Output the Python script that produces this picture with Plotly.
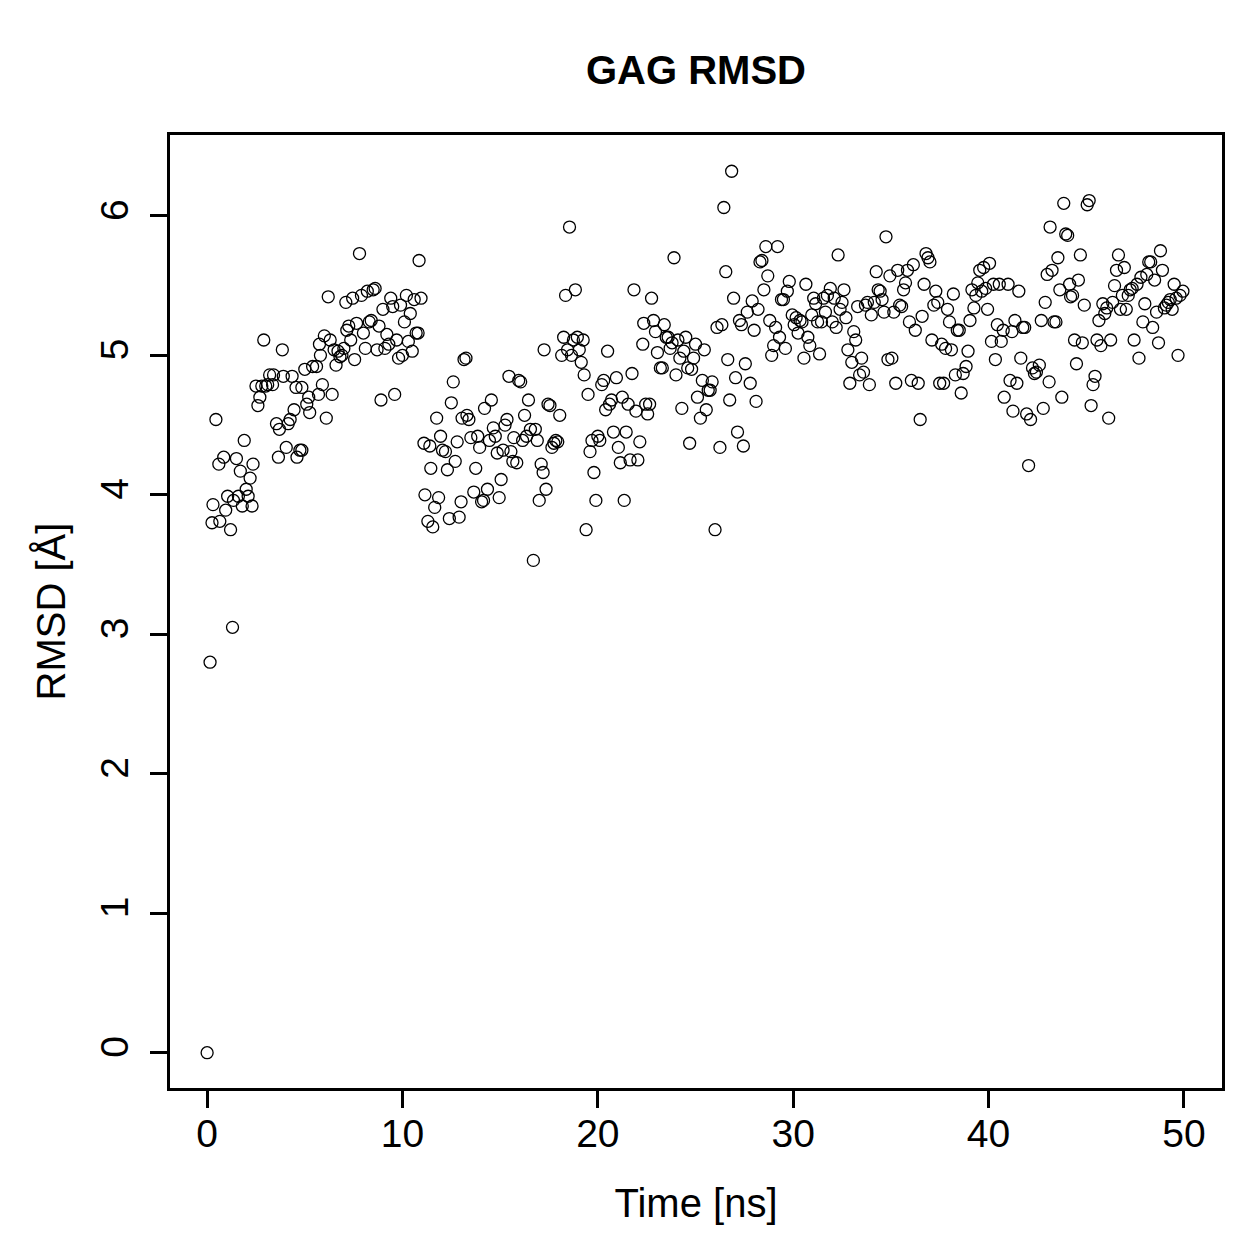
import plotly.graph_objects as go

time_ns = [
    0.0, 0.15, 0.3, 0.25, 0.45, 0.6, 0.65, 0.85, 0.95, 1.05, 1.2, 1.3, 1.35, 1.5, 1.6, 1.7, 1.8, 1.9, 2.0, 2.1,
    2.2, 2.3, 2.35, 2.5, 2.6, 2.7, 2.8, 2.9, 3.0, 3.1, 3.2, 3.35, 3.4, 3.55, 3.65, 3.7, 3.85, 3.9, 4.05, 4.15,
    4.25, 4.35, 4.45, 4.55, 4.6, 4.75, 4.85, 4.85, 5.0, 5.1, 5.2, 5.25, 5.4, 5.6, 5.7, 5.75, 5.8, 5.9, 6.0, 6.1,
    6.2, 6.3, 6.4, 6.5, 6.6, 6.7, 6.8, 6.9, 7.0, 7.1, 7.15, 7.25, 7.35, 7.45, 7.55, 7.65, 7.8, 7.9, 8.0, 8.1,
    8.2, 8.3, 8.4, 8.5, 8.6, 8.7, 8.8, 8.9, 9.0, 9.1, 9.2, 9.3, 9.4, 9.5, 9.6, 9.7, 9.8, 9.9, 10.0, 10.1,
    10.2, 10.3, 10.4, 10.5, 10.6, 10.7, 10.8, 10.85, 10.95,
    11.1, 11.15, 11.3, 11.4, 11.45, 11.55, 11.65, 11.75, 11.85, 11.95, 12.05, 12.2, 12.3, 12.4, 12.5, 12.6,
    12.7, 12.8, 12.9, 13.0, 13.05, 13.15, 13.25, 13.3, 13.4, 13.5, 13.65, 13.75, 13.85, 13.95, 14.05, 14.15,
    14.2, 14.35, 14.45, 14.55, 14.65, 14.75, 14.85, 14.95, 15.05, 15.15, 15.25, 15.35, 15.45, 15.55, 15.65,
    15.7, 15.85, 15.95, 16.05, 16.15, 16.25, 16.35, 16.45, 16.55, 16.7, 16.8, 16.9, 17.0, 17.1, 17.2, 17.25,
    17.35, 17.45, 17.55, 17.65, 17.75, 17.85, 17.95, 18.05, 18.15, 18.25, 18.35, 18.45, 18.55, 18.65, 18.75,
    18.85, 18.95, 19.05, 19.15, 19.25, 19.3, 19.4, 19.5, 19.6, 19.7, 19.8, 19.9, 20.0, 20.1, 20.2, 20.3,
    20.4, 20.5, 20.6, 20.7, 20.8, 20.95, 21.05, 21.15, 21.25, 21.35, 21.45, 21.55, 21.65, 21.75, 21.85, 21.95,
    22.05, 22.15, 22.3, 22.35, 22.45, 22.55, 22.65, 22.75, 22.85, 22.95, 23.05, 23.2, 23.3, 23.4, 23.5, 23.6,
    23.7, 23.8, 23.9, 24.0, 24.1, 24.2, 24.3, 24.4, 24.5, 24.6, 24.7, 24.8, 24.9, 25.0, 25.1, 25.25, 25.35,
    25.45, 25.55, 25.65, 25.75, 25.85, 26.0, 26.1, 26.25, 26.35, 26.45, 26.55, 26.65, 26.75, 26.85, 26.95,
    27.05, 27.15, 27.25, 27.35, 27.45, 27.55, 27.65, 27.8, 27.9, 28.0, 28.1, 28.2, 28.3, 28.4, 28.5, 28.6,
    28.7, 28.8, 28.9, 29.0, 29.1, 29.2, 29.3, 29.4, 29.5, 29.6, 29.7, 29.8, 29.95, 30.05, 30.15, 30.25,
    30.35, 30.45, 30.55, 30.65, 30.75, 30.85, 30.95, 31.05, 31.15, 31.25, 31.35, 31.45, 31.55, 31.65, 31.75,
    31.9, 32.0, 32.1, 32.2, 32.3, 32.4, 32.5, 32.6, 32.7, 32.8, 32.9, 33.0, 33.1, 33.2, 33.3, 33.4, 33.5,
    33.6, 33.7, 33.8, 33.9, 34.0, 34.15, 34.25, 34.35, 34.45, 34.55, 34.65, 34.75, 34.85, 34.95, 35.05,
    35.15, 35.25, 35.35, 35.45, 35.55, 35.65, 35.75, 35.85, 35.95, 36.05, 36.15, 36.25, 36.4, 36.5, 36.6,
    36.7, 36.8, 36.9, 37.0, 37.1, 37.2, 37.3, 37.4, 37.5, 37.6, 37.7, 37.8, 37.9, 38.0, 38.1, 38.2, 38.3,
    38.4, 38.5, 38.6, 38.7, 38.85, 38.95, 39.05, 39.15, 39.25, 39.35, 39.45, 39.55, 39.65, 39.75, 39.85,
    39.95, 40.05, 40.15, 40.25, 40.35, 40.45, 40.55, 40.65, 40.75, 40.8, 41.0, 41.1, 41.2, 41.25, 41.35,
    41.45, 41.55, 41.65, 41.75, 41.85, 41.95, 42.05, 42.15, 42.25, 42.35, 42.45, 42.6, 42.7, 42.8, 42.9,
    43.0, 43.1, 43.15, 43.25, 43.35, 43.45, 43.55, 43.65, 43.75, 43.85, 43.95, 44.05, 44.15, 44.2, 44.3,
    44.4, 44.5, 44.6, 44.7, 44.8, 44.9, 45.05, 45.15, 45.25, 45.35, 45.45, 45.55, 45.65, 45.75, 45.85,
    45.95, 46.05, 46.15, 46.25, 46.35, 46.45, 46.55, 46.65, 46.75, 46.85, 46.95, 47.05, 47.15, 47.25, 47.35,
    47.45, 47.6, 47.7, 47.8, 47.9, 48.0, 48.1, 48.2, 48.3, 48.4, 48.5, 48.6, 48.7, 48.8, 48.9, 49.0, 49.1,
    49.2, 49.3, 49.4, 49.5, 49.6, 49.7, 49.8, 49.95,
]

rmsd = [
    0.0, 2.80, 3.93, 3.80, 4.54, 4.22, 3.81, 4.27, 3.89, 3.99, 3.75, 3.05, 3.96, 4.26, 3.99, 4.17, 3.92, 4.39, 4.04, 3.99,
    4.12, 3.92, 4.22, 4.78, 4.64, 4.70, 4.78, 5.11, 4.78, 4.79, 4.86, 4.79, 4.86, 4.51, 4.27, 4.47, 5.04, 4.85, 4.34, 4.51,
    4.54, 4.85, 4.61, 4.77, 4.27, 4.32, 4.32, 4.77, 4.90, 4.65, 4.70, 4.59, 4.92, 4.92, 4.72, 5.08, 5.00, 4.79, 5.14, 4.55,
    5.42, 5.11, 4.72, 5.04, 4.93, 5.03, 4.99, 5.00, 5.05, 5.38, 5.18, 5.21, 5.11, 5.41, 4.97, 5.23, 5.73, 5.43, 5.16, 5.05,
    5.46, 5.24, 5.25, 5.47, 5.48, 5.04, 5.21, 4.68, 5.33, 5.05, 5.15, 5.08, 5.41, 5.35, 4.72, 5.11, 4.98, 5.36, 5.00, 5.24,
    5.43, 5.10, 5.30, 5.03, 5.40, 5.16, 5.16, 5.68, 5.41,
    4.37, 4.00, 3.81, 4.35, 4.19, 3.77, 3.91, 4.55, 3.98, 4.42, 4.32, 4.31, 4.18, 3.83, 4.66, 4.81,
    4.24, 4.38, 3.84, 3.95, 4.55, 4.97, 4.98, 4.57, 4.54, 4.41, 4.02, 4.19, 4.42, 4.34, 3.95, 3.96,
    4.62, 4.04, 4.39, 4.68, 4.48, 4.42, 4.30, 3.98, 4.11, 4.32, 4.50, 4.54, 4.85, 4.31, 4.24,
    4.41, 4.23, 4.82, 4.81, 4.39, 4.57, 4.42, 4.68, 4.47, 3.53, 4.47, 4.39, 3.96, 4.22, 4.16, 5.04,
    4.04, 4.65, 4.64, 4.34, 4.37, 4.39, 4.38, 4.57, 5.00, 5.13, 5.43, 5.04, 5.92, 5.00, 5.11,
    5.47, 5.13, 5.04, 4.95, 5.11, 4.86, 3.75, 4.72, 4.31, 4.39, 4.16, 3.96, 4.42, 4.39, 4.79, 4.82,
    4.61, 5.03, 4.65, 4.68, 4.45, 4.84, 4.34, 4.23, 4.70, 3.96, 4.45, 4.65, 4.25, 4.87, 5.47, 4.60,
    4.25, 4.38, 5.08, 5.23, 4.65, 4.58, 4.65, 5.41, 5.25, 5.17, 5.02, 4.91, 4.91, 5.22, 5.13, 5.13,
    5.05, 5.09, 5.70, 4.86, 5.11, 4.98, 4.62, 5.03, 5.13, 4.91, 4.37, 4.90, 4.98, 5.08, 4.70, 4.55, 4.82,
    5.04, 4.61, 4.75, 4.75, 4.81, 3.75, 5.20, 4.34, 5.22, 6.06, 5.60, 4.97, 4.68, 6.32, 5.41,
    4.84, 4.45, 5.25, 5.22, 4.35, 4.94, 5.31, 4.80, 5.39, 5.18, 4.67, 5.33, 5.67, 5.68, 5.47, 5.78,
    5.57, 5.25, 5.00, 5.07, 5.20, 5.78, 5.13, 5.40, 5.40, 5.05, 5.46, 5.53, 5.29, 5.22, 5.27, 5.16,
    5.25, 5.24, 4.98, 5.51, 5.13, 5.07, 5.29, 5.41, 5.37, 5.24, 5.01, 5.24, 5.41, 5.31, 5.43,
    5.48, 5.24, 5.41, 5.20, 5.72, 5.33, 5.38, 5.47, 5.27, 5.04, 4.80, 4.95, 5.17, 5.11, 5.35, 4.86, 4.98,
    4.88, 5.36, 5.38, 4.79, 5.29, 5.38, 5.60, 5.47, 5.46, 5.40, 5.31, 5.85, 4.97, 5.57, 4.98,
    5.31, 4.80, 5.61, 5.36, 5.35, 5.47, 5.52, 5.61, 5.24, 4.82, 5.65, 5.18, 4.80, 4.54, 5.28,
    5.51, 5.73, 5.70, 5.67, 5.11, 5.36, 5.46, 5.38, 4.80, 5.08, 4.80, 5.05, 5.33, 5.24, 5.04, 5.44, 4.86,
    5.18, 5.18, 4.73, 4.87, 4.92, 5.03, 5.25, 5.47, 5.34, 5.43, 5.52, 5.61, 5.46, 5.63, 5.48,
    5.33, 5.66, 5.10, 5.51, 4.97, 5.22, 5.51, 5.10, 5.18, 4.70, 5.51, 4.82, 5.17, 4.60, 5.25,
    4.80, 5.46, 4.98, 5.20, 5.20, 4.58, 4.21, 4.54, 4.91, 4.87, 4.88, 4.93, 5.25, 4.62, 5.38,
    5.58, 4.81, 5.92, 5.61, 5.24, 5.24, 5.70, 5.47, 4.70, 6.09, 5.87, 5.86, 5.51, 5.42, 5.43,
    5.11, 4.94, 5.54, 5.72, 5.09, 5.36, 6.08, 6.11, 4.64, 4.79, 4.85, 5.11, 5.25, 5.07, 5.37,
    5.30, 5.34, 4.55, 5.11, 5.38, 5.50, 5.61, 5.72, 5.33, 5.43, 5.63, 5.33, 5.43, 5.47, 5.48,
    5.11, 5.51, 4.98, 5.56, 5.24, 5.37, 5.58, 5.67, 5.67, 5.20, 5.54, 5.31, 5.09, 5.75, 5.61, 5.34, 5.36,
    5.38, 5.40, 5.33, 5.51, 5.41, 5.00, 5.43, 5.46,
]

x_ticks = [0, 10, 20, 30, 40, 50]
y_ticks = [0, 1, 2, 3, 4, 5, 6]

FONT = "Liberation Sans, Arial, sans-serif"

fig = go.Figure(
    go.Scatter(
        x=time_ns,
        y=rmsd,
        mode="markers",
        marker=dict(symbol="circle-open", size=12, color="black", line=dict(width=1.3, color="black")),
        showlegend=False,
        hoverinfo="x+y",
    )
)

axis_common = dict(
    showline=True,
    linecolor="black",
    linewidth=3,
    mirror=True,
    ticks="outside",
    ticklen=17,
    tickwidth=3,
    tickcolor="black",
    showgrid=False,
    zeroline=False,
    tickfont=dict(family=FONT, size=39, color="black"),
)

fig.update_layout(
    width=1259,
    height=1259,
    paper_bgcolor="white",
    plot_bgcolor="white",
    margin=dict(l=170, r=37, t=135, b=171),
    title=dict(
        text="<b>GAG RMSD</b>",
        font=dict(family=FONT, size=40, color="black"),
        x=0.5,
        xanchor="center",
        xref="paper",
        y=1 - 70 / 1259,
        yref="container",
        yanchor="middle",
    ),
    xaxis=dict(
        axis_common,
        range=[-1.9, 51.95],
        tickvals=x_ticks,
        ticktext=[str(v) for v in x_ticks],
        ticklabelstandoff=-8,
        title=dict(text="Time [ns]", font=dict(family=FONT, size=40, color="black"), standoff=36),
    ),
    yaxis=dict(
        axis_common,
        range=[-0.253, 6.58],
        tickvals=y_ticks,
        ticktext=[str(v) for v in y_ticks],
        tickangle=-90,
        ticklabelstandoff=6,
        title=dict(text="RMSD [Å]", font=dict(family=FONT, size=40, color="black"), standoff=16),
    ),
)

fig.write_html("out.html")
